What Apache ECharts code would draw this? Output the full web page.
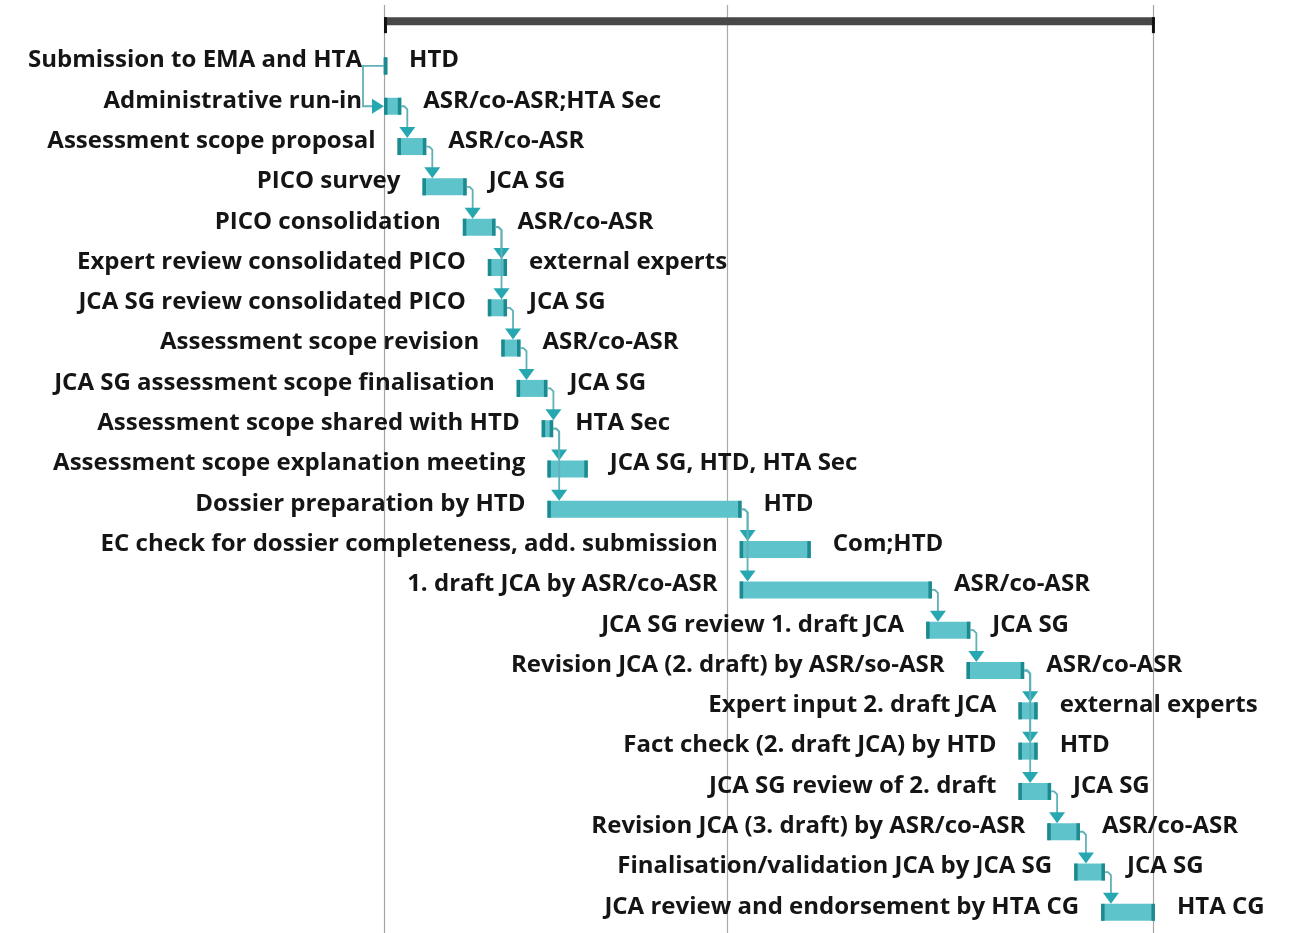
<!DOCTYPE html>
<html>
  <head>
    <meta charset="utf-8" />
    <title>JCA timeline</title>
    <script src="https://cdn.jsdelivr.net/npm/echarts@6.0.0/dist/echarts.min.js"></script>
    <style>
      html, body { margin: 0; padding: 0; background: #fff; }
      #chart { width: 1294px; height: 933px; }
    </style>
  </head>
  <body>
    <div id="chart"></div>
    <script type="text/javascript">
      // tasks, top to bottom
      var tasks = [
        'Submission to EMA and HTA',
        'Administrative run-in',
        'Assessment scope proposal',
        'PICO survey',
        'PICO consolidation',
        'Expert review consolidated PICO',
        'JCA SG review consolidated PICO',
        'Assessment scope revision',
        'JCA SG assessment scope finalisation',
        'Assessment scope shared with HTD',
        'Assessment scope explanation meeting',
        'Dossier preparation by HTD',
        'EC check for dossier completeness, add. submission',
        '1. draft JCA by ASR/co-ASR',
        'JCA SG review 1. draft JCA',
        'Revision JCA (2. draft) by ASR/so-ASR',
        'Expert input 2. draft JCA',
        'Fact check (2. draft JCA) by HTD',
        'JCA SG review of 2. draft',
        'Revision JCA (3. draft) by ASR/co-ASR',
        'Finalisation/validation JCA by JCA SG',
        'JCA review and endorsement by HTA CG'
      ];
      var owners = [
        'HTD', 'ASR/co-ASR;HTA Sec', 'ASR/co-ASR', 'JCA SG', 'ASR/co-ASR',
        'external experts', 'JCA SG', 'ASR/co-ASR', 'JCA SG', 'HTA Sec',
        'JCA SG, HTD, HTA Sec', 'HTD', 'Com;HTD', 'ASR/co-ASR', 'JCA SG',
        'ASR/co-ASR', 'external experts', 'HTD', 'JCA SG', 'ASR/co-ASR',
        'JCA SG', 'HTA CG'
      ];
      // days from project start
      var starts = [0, 0, 3.5, 10, 20.5, 27, 27, 30.5, 34.5, 41, 42.5, 42.5, 92.5, 92.5, 141, 151.5, 165, 165, 165, 172.5, 179.5, 186.5];
      var ends   = [0.8, 4.5, 11, 21.5, 29, 32, 32, 35.5, 42.5, 44, 53, 93, 111, 142.5, 152.5, 166.5, 170, 170, 173.5, 181, 187.5, 200.5];
      // predecessor of each task (-1 = none)
      var preds = [-1, 0, 1, 2, 3, 4, 4, 6, 7, 8, 9, 9, 11, 11, 13, 14, 15, 15, 15, 18, 19, 20];
      // vertical guide lines
      var guides = [0, 89.2, 200];

      var FONT = 'bold 24px "Open Sans"';
      var rows = ['Project'].concat(tasks);

      var taskData = [];
      for (var i = 0; i < tasks.length; i++) taskData.push([starts[i], ends[i], i + 1]);

      var linkData = [];
      for (var i = 0; i < tasks.length; i++) {
        var p = preds[i];
        if (p < 0) continue;
        linkData.push([starts[p], ends[p], p + 1, starts[i], i + 1]);
      }

      var projStart = Math.min.apply(null, starts);
      var projEnd = Math.max.apply(null, ends);

      function renderTask(params, api) {
        var s = api.coord([api.value(0), api.value(2)]);
        var e = api.coord([api.value(1), api.value(2)]);
        var idx = params.dataIndex;
        var y = s[1];
        var top = y - 3, h = 17;
        var w = Math.max(e[0] - s[0], 3);
        return {
          type: 'group',
          children: [
            { type: 'rect', shape: { x: s[0], y: top, width: w, height: h }, style: { fill: '#5ec3cb' } },
            { type: 'rect', shape: { x: s[0], y: top, width: 3.5, height: h }, style: { fill: '#1c8a8e' } },
            { type: 'rect', shape: { x: s[0] + w - 3.5, y: top, width: 3.5, height: h }, style: { fill: '#1c8a8e' } },
            { type: 'text', style: { text: tasks[idx], x: s[0] - 22, y: y, align: 'right', textAlign: 'right',
                verticalAlign: 'middle', textVerticalAlign: 'middle', font: FONT, fill: '#151515' } },
            { type: 'text', style: { text: owners[idx], x: s[0] + w + 22, y: y, align: 'left', textAlign: 'left',
                verticalAlign: 'middle', textVerticalAlign: 'middle', font: FONT, fill: '#151515' } }
          ]
        };
      }

      function renderLink(params, api) {
        var ps = api.coord([api.value(0), api.value(2)]);
        var pe = api.coord([api.value(1), api.value(2)]);
        var ss = api.coord([api.value(3), api.value(4)]);
        var y0 = ps[1] + 5.5;
        var lineStyle = { stroke: '#5fb1b8', lineWidth: 1.8, fill: null };
        var arrowFill = '#27a8b1';
        if (api.value(3) <= api.value(0)) {
          // successor starts with predecessor: loop round the left side
          var xl = ps[0] - 21, y1 = ss[1] + 5.5;
          return {
            type: 'group',
            children: [
              { type: 'polyline', shape: { points: [[ps[0], y0], [xl, y0], [xl, y1], [ss[0] - 10, y1]] }, style: lineStyle },
              { type: 'polygon', shape: { points: [[ss[0] - 12, y1 - 7.5], [ss[0] - 12, y1 + 7.5], [ss[0], y1]] }, style: { fill: arrowFill } }
            ]
          };
        }
        var xa = Math.max(pe[0], ps[0] + 3) + 6;
        var topS = ss[1] - 3;
        return {
          type: 'group',
          children: [
            { type: 'polyline', shape: { points: [[pe[0], y0], [xa - 3, y0], [xa, y0 + 3], [xa, topS - 8]] }, style: lineStyle },
            { type: 'polygon', shape: { points: [[xa - 8, topS - 11], [xa + 8, topS - 11], [xa, topS]] }, style: { fill: arrowFill } }
          ]
        };
      }

      function renderSummary(params, api) {
        var s = api.coord([api.value(0), 0]);
        var e = api.coord([api.value(1), 0]);
        var y = s[1];
        return {
          type: 'group',
          children: [
            { type: 'rect', shape: { x: s[0], y: y - 3, width: e[0] - s[0], height: 8 }, style: { fill: '#484848' } },
            { type: 'rect', shape: { x: s[0], y: y - 3, width: 3, height: 16 }, style: { fill: '#111' } },
            { type: 'rect', shape: { x: e[0] - 3, y: y - 3, width: 3, height: 16 }, style: { fill: '#111' } }
          ]
        };
      }

      function renderGuide(params, api) {
        var p = api.coord([api.value(0), 0]);
        var x = Math.round(p[0]) + 0.5;
        var colors = ['#a3a3a3', '#9fb09f', '#a3a3a3'];
        return {
          type: 'line',
          shape: { x1: x, y1: 5, x2: x, y2: api.getHeight() },
          style: { stroke: colors[params.dataIndex] || '#a3a3a3', lineWidth: 1.2 }
        };
      }

      var myChart = echarts.init(document.getElementById('chart'), null, { renderer: 'canvas' });
      myChart.setOption({
        animation: false,
        backgroundColor: '#fff',
        grid: { left: 384, right: 141, top: 0, bottom: 6 },
        xAxis: { type: 'value', min: 0, max: 200, show: false },
        yAxis: { type: 'category', data: rows, inverse: true, show: false },
        series: [
          { type: 'custom', name: 'guides', renderItem: renderGuide, data: guides.map(function (g) { return [g]; }), z: 1, silent: true },
          { type: 'custom', name: 'summary', renderItem: renderSummary, data: [[projStart, projEnd]], z: 2, clip: false },
          { type: 'custom', name: 'tasks', renderItem: renderTask, data: taskData, z: 3, clip: false },
          { type: 'custom', name: 'links', renderItem: renderLink, data: linkData, z: 4, clip: false }
        ]
      });
    </script>
  </body>
</html>
